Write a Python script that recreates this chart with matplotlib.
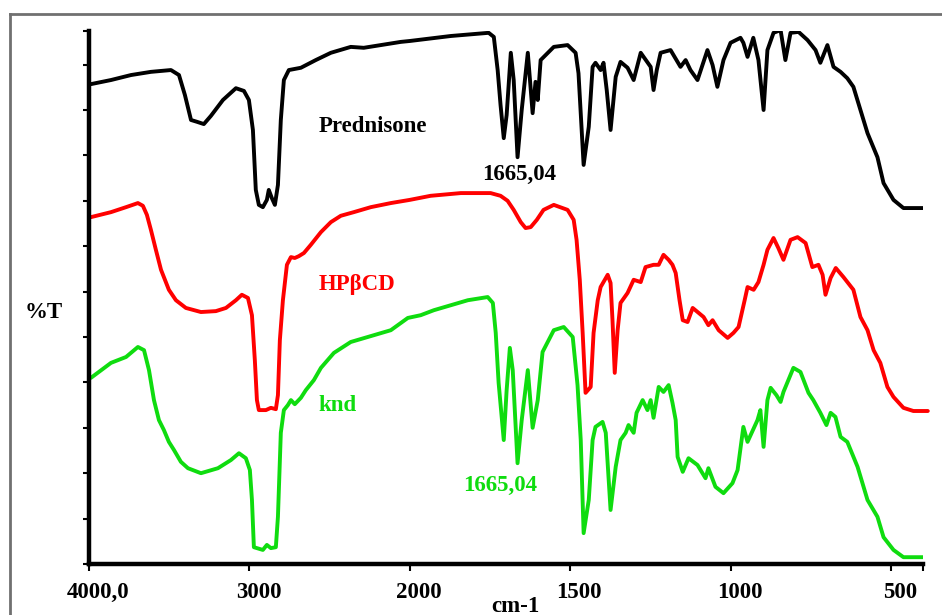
import numpy as np
import matplotlib
matplotlib.use('Agg')
import matplotlib.pyplot as plt
from matplotlib.lines import Line2D
from matplotlib.transforms import ScaledTranslation

# wavenumber (cm-1) / %T readings, offset spectra
pred_wn = [3988, 3863, 3738, 3614, 3489, 3439, 3402, 3364, 3327, 3284, 3240, 3165, 3084, 3034, 3003,
           2978, 2960, 2941, 2916, 2891, 2879, 2860, 2841, 2822, 2804, 2785, 2754, 2679, 2586, 2492,
           2368, 2287, 2056, 2000, 1872, 1754, 1738, 1726, 1717, 1707, 1698, 1685, 1676, 1664, 1651,
           1632, 1617, 1608, 1601, 1592, 1551, 1508, 1483, 1474, 1458, 1442, 1430, 1421, 1405, 1396,
           1386, 1374, 1358, 1343, 1321, 1302, 1280, 1249, 1240, 1230, 1218, 1187, 1156, 1140, 1125,
           1103, 1072, 1056, 1041, 1022, 1000, 969, 960, 947, 929, 913, 897, 885, 866, 844,
           829, 813, 788, 760, 735, 720, 698, 679, 657, 636, 617, 595, 573, 542, 523,
           492, 461, 400]
pred_t = [105.7, 106.6, 107.7, 108.4, 108.8, 107.7, 103.3, 97.8, 97.4, 96.9, 98.7, 102.2, 104.8, 104.2, 102.2,
          95.6, 82.4, 79.1, 78.6, 80.2, 82.4, 80.6, 79.1, 83.5, 97.8, 106.6, 108.8, 109.3, 111.0, 112.6,
          113.9, 113.7, 115.0, 115.2, 116.3, 117.0, 116.1, 108.8, 101.1, 93.8, 98.9, 112.6, 106.6, 89.6, 100.0,
          112.6, 99.3, 106.2, 102.2, 111.0, 113.9, 114.3, 112.6, 108.1, 87.9, 96.3, 109.5, 110.4, 108.8, 110.4,
          104.4, 95.6, 107.3, 110.6, 109.3, 106.6, 112.6, 109.5, 104.4, 108.8, 112.6, 113.2, 109.5, 111.0, 108.8,
          106.6, 113.2, 109.9, 105.1, 111.0, 114.8, 115.9, 114.8, 111.7, 115.9, 111.0, 100.0, 113.2, 117.0, 117.6,
          111.0, 117.0, 117.2, 115.4, 113.2, 110.4, 114.3, 109.5, 108.4, 107.0, 105.1, 100.0, 94.9, 89.6, 83.9,
          80.2, 78.4, 78.4]

hp_wn = [3988, 3863, 3769, 3695, 3664, 3639, 3614, 3583, 3551, 3502, 3458, 3396, 3302, 3209, 3146,
         3084, 3047, 3009, 2984, 2966, 2953, 2941, 2897, 2866, 2835, 2822, 2810, 2791, 2766, 2741,
         2717, 2692, 2660, 2617, 2554, 2492, 2430, 2349, 2243, 2118, 2000, 1935, 1841, 1748, 1717,
         1695, 1676, 1654, 1639, 1623, 1604, 1583, 1551, 1508, 1489, 1480, 1470, 1461, 1452, 1436,
         1427, 1414, 1405, 1383, 1374, 1368, 1361, 1352, 1343, 1321, 1302, 1280, 1265, 1240, 1224,
         1209, 1193, 1181, 1171, 1159, 1149, 1134, 1118, 1084, 1069, 1056, 1037, 1009, 991, 975,
         956, 947, 928, 913, 897, 885, 866, 851, 835, 822, 813, 791, 766, 745, 726,
         713, 704, 688, 672, 648, 617, 595, 573, 554, 533, 511, 492, 461, 430, 385]
hp_t = [76.4, 77.5, 78.6, 79.5, 78.9, 76.9, 73.6, 69.2, 64.8, 60.4, 58.1, 56.4, 55.5, 55.7, 56.4,
        58.1, 59.3, 58.6, 54.8, 44.9, 36.1, 33.9, 33.9, 34.4, 34.1, 37.2, 49.3, 58.1, 65.9, 67.6,
        67.4, 67.8, 68.5, 70.3, 73.1, 75.3, 76.7, 77.5, 78.6, 79.5, 80.2, 81.1, 81.7, 81.7, 81.1,
        80.0, 78.0, 75.3, 74.0, 74.2, 75.8, 78.0, 79.1, 78.0, 75.8, 71.4, 62.6, 50.9, 37.7, 39.0,
        50.9, 58.1, 61.0, 63.7, 61.9, 53.7, 42.1, 51.5, 57.5, 59.7, 62.6, 62.1, 65.4, 65.9, 65.9,
        68.1, 67.0, 65.9, 64.1, 58.1, 53.7, 53.3, 56.4, 54.4, 52.6, 53.7, 51.5, 49.8, 50.9, 52.2,
        58.1, 61.0, 60.4, 62.1, 65.9, 69.2, 71.8, 69.6, 67.0, 69.6, 71.4, 72.0, 70.7, 65.4, 65.9,
        63.7, 59.3, 63.0, 65.2, 63.2, 60.4, 54.4, 51.5, 47.1, 44.3, 39.0, 36.8, 34.4, 33.7, 33.7]

knd_wn = [3988, 3863, 3769, 3695, 3657, 3626, 3595, 3564, 3533, 3502, 3470, 3427, 3383, 3302, 3196,
          3115, 3065, 3022, 2997, 2984, 2972, 2916, 2891, 2866, 2835, 2822, 2804, 2785, 2760, 2741,
          2717, 2679, 2648, 2598, 2554, 2473, 2368, 2262, 2118, 2012, 1966, 1925, 1872, 1819, 1757,
          1741, 1732, 1723, 1707, 1698, 1688, 1679, 1664, 1651, 1632, 1617, 1601, 1586, 1551, 1520,
          1492, 1477, 1467, 1458, 1442, 1430, 1421, 1399, 1389, 1374, 1358, 1343, 1327, 1318, 1302,
          1293, 1274, 1259, 1249, 1240, 1224, 1209, 1193, 1181, 1171, 1165, 1149, 1131, 1103, 1078,
          1069, 1047, 1022, 994, 978, 960, 947, 916, 907, 897, 885, 875, 857, 844, 835,
          804, 782, 757, 742, 720, 701, 688, 673, 657, 636, 604, 573, 542, 523, 492,
          461, 400]
knd_t = [41.0, 44.3, 45.6, 47.8, 47.1, 42.7, 36.1, 31.7, 29.5, 26.9, 25.1, 22.5, 21.1, 20.0, 21.1,
         22.9, 24.4, 23.3, 20.7, 14.1, 3.7, 3.1, 4.2, 3.5, 3.7, 10.4, 28.9, 33.9, 35.0, 36.1,
         35.2, 36.6, 38.3, 40.5, 43.2, 46.5, 48.9, 50.0, 51.5, 54.2, 54.8, 55.9, 57.0, 58.1, 58.8,
         57.5, 50.9, 39.9, 27.3, 38.3, 47.6, 42.7, 22.2, 31.7, 42.7, 30.0, 36.1, 46.7, 51.5, 52.2,
         50.0, 39.4, 27.3, 6.8, 14.1, 27.3, 30.2, 31.3, 28.9, 11.9, 21.4, 27.3, 28.9, 30.6, 28.9,
         33.3, 36.1, 33.9, 36.1, 32.2, 39.0, 37.9, 39.4, 35.5, 31.7, 23.6, 20.3, 23.3, 21.8, 18.9,
         21.1, 17.0, 15.6, 17.8, 20.7, 30.2, 26.9, 31.7, 33.9, 25.8, 36.1, 38.8, 37.2, 35.7, 37.9,
         43.2, 42.3, 37.7, 36.1, 33.3, 30.6, 33.3, 32.4, 28.0, 26.9, 21.4, 14.1, 10.4, 5.9, 3.1,
         1.5, 1.5]

xticks = [4000, 3000, 2000, 1500, 1000, 500]
xticklabels = ['4000,0', '3000', '2000', '1500', '1000', '500']


# scale halves below 2000 cm-1 (usual FTIR expansion)
def fwd(w):
    w = np.asarray(w, dtype=float)
    return np.where(w >= 2000, w, 2 * w - 2000)


def inv(u):
    u = np.asarray(u, dtype=float)
    return np.where(u >= 2000, u, (u + 2000) / 2)


plt.rcParams['font.family'] = 'Liberation Serif'
plt.rcParams['font.weight'] = 'bold'

fig = plt.figure(figsize=(9.42, 6.15), dpi=100)
ax = fig.add_axes([89 / 942, 51 / 615, 834 / 942, 533 / 615])
ax.set_xscale('function', functions=(fwd, inv))

style = dict(lw=2.8, solid_joinstyle='round', solid_capstyle='round')
ax.plot(pred_wn, pred_t, color='black', **style)
ax.plot(hp_wn, hp_t, color='#ff0000', clip_on=False, **style)
ax.plot(knd_wn, knd_t, color='#0fdc0f', **style)

ax.set_xlim(4000, 400)
ax.set_ylim(0, 117.4)

ax.set_xticks(xticks)
ax.set_xticklabels(xticklabels, fontsize=16.5, fontweight='bold')
ax.set_xticks([400], minor=True)
ax.set_yticks(list(range(0, 111, 10)) + [117.4])
ax.set_yticklabels([])
ax.tick_params(axis='x', which='both', direction='out', length=5, width=1.5, pad=8)
ax.tick_params(axis='y', direction='out', length=4, width=1.5)
for lab in ax.get_xticklabels():
    lab.set_transform(lab.get_transform() + ScaledTranslation(0.09, 0, fig.dpi_scale_trans))

for s in ['top', 'right']:
    ax.spines[s].set_visible(False)
for s in ['left', 'bottom']:
    ax.spines[s].set_linewidth(3.2)

ax.text(2567, 96.3, 'Prednisone', color='black', fontsize=16.5, fontweight='bold', va='center')
ax.text(1660, 85.9, '1665,04', color='black', fontsize=16.5, fontweight='bold', va='center', ha='center')
ax.text(2567, 61.5, 'HPβCD', color='#ff0000', fontsize=16.5, fontweight='bold', va='center')
ax.text(2567, 35.0, 'knd', color='#0fdc0f', fontsize=16.5, fontweight='bold', va='center')
ax.text(1717, 17.4, '1665,04', color='#0fdc0f', fontsize=16.5, fontweight='bold', va='center', ha='center')

fig.text(44 / 942, 1 - 313 / 615, '%T', fontsize=16.5, fontweight='bold', ha='center', va='center')
fig.text(515 / 942, 1 - 606 / 615, 'cm-1', fontsize=16.5, fontweight='bold', ha='center', va='center')

# grey outer frame
fig.add_artist(Line2D([10 / 942, 10 / 942], [-0.1, 1 - 14 / 615], color='#707070', lw=2))
fig.add_artist(Line2D([10 / 942, 1.1], [1 - 14 / 615, 1 - 14 / 615], color='#707070', lw=2))

fig.savefig('out.png', dpi=100)
